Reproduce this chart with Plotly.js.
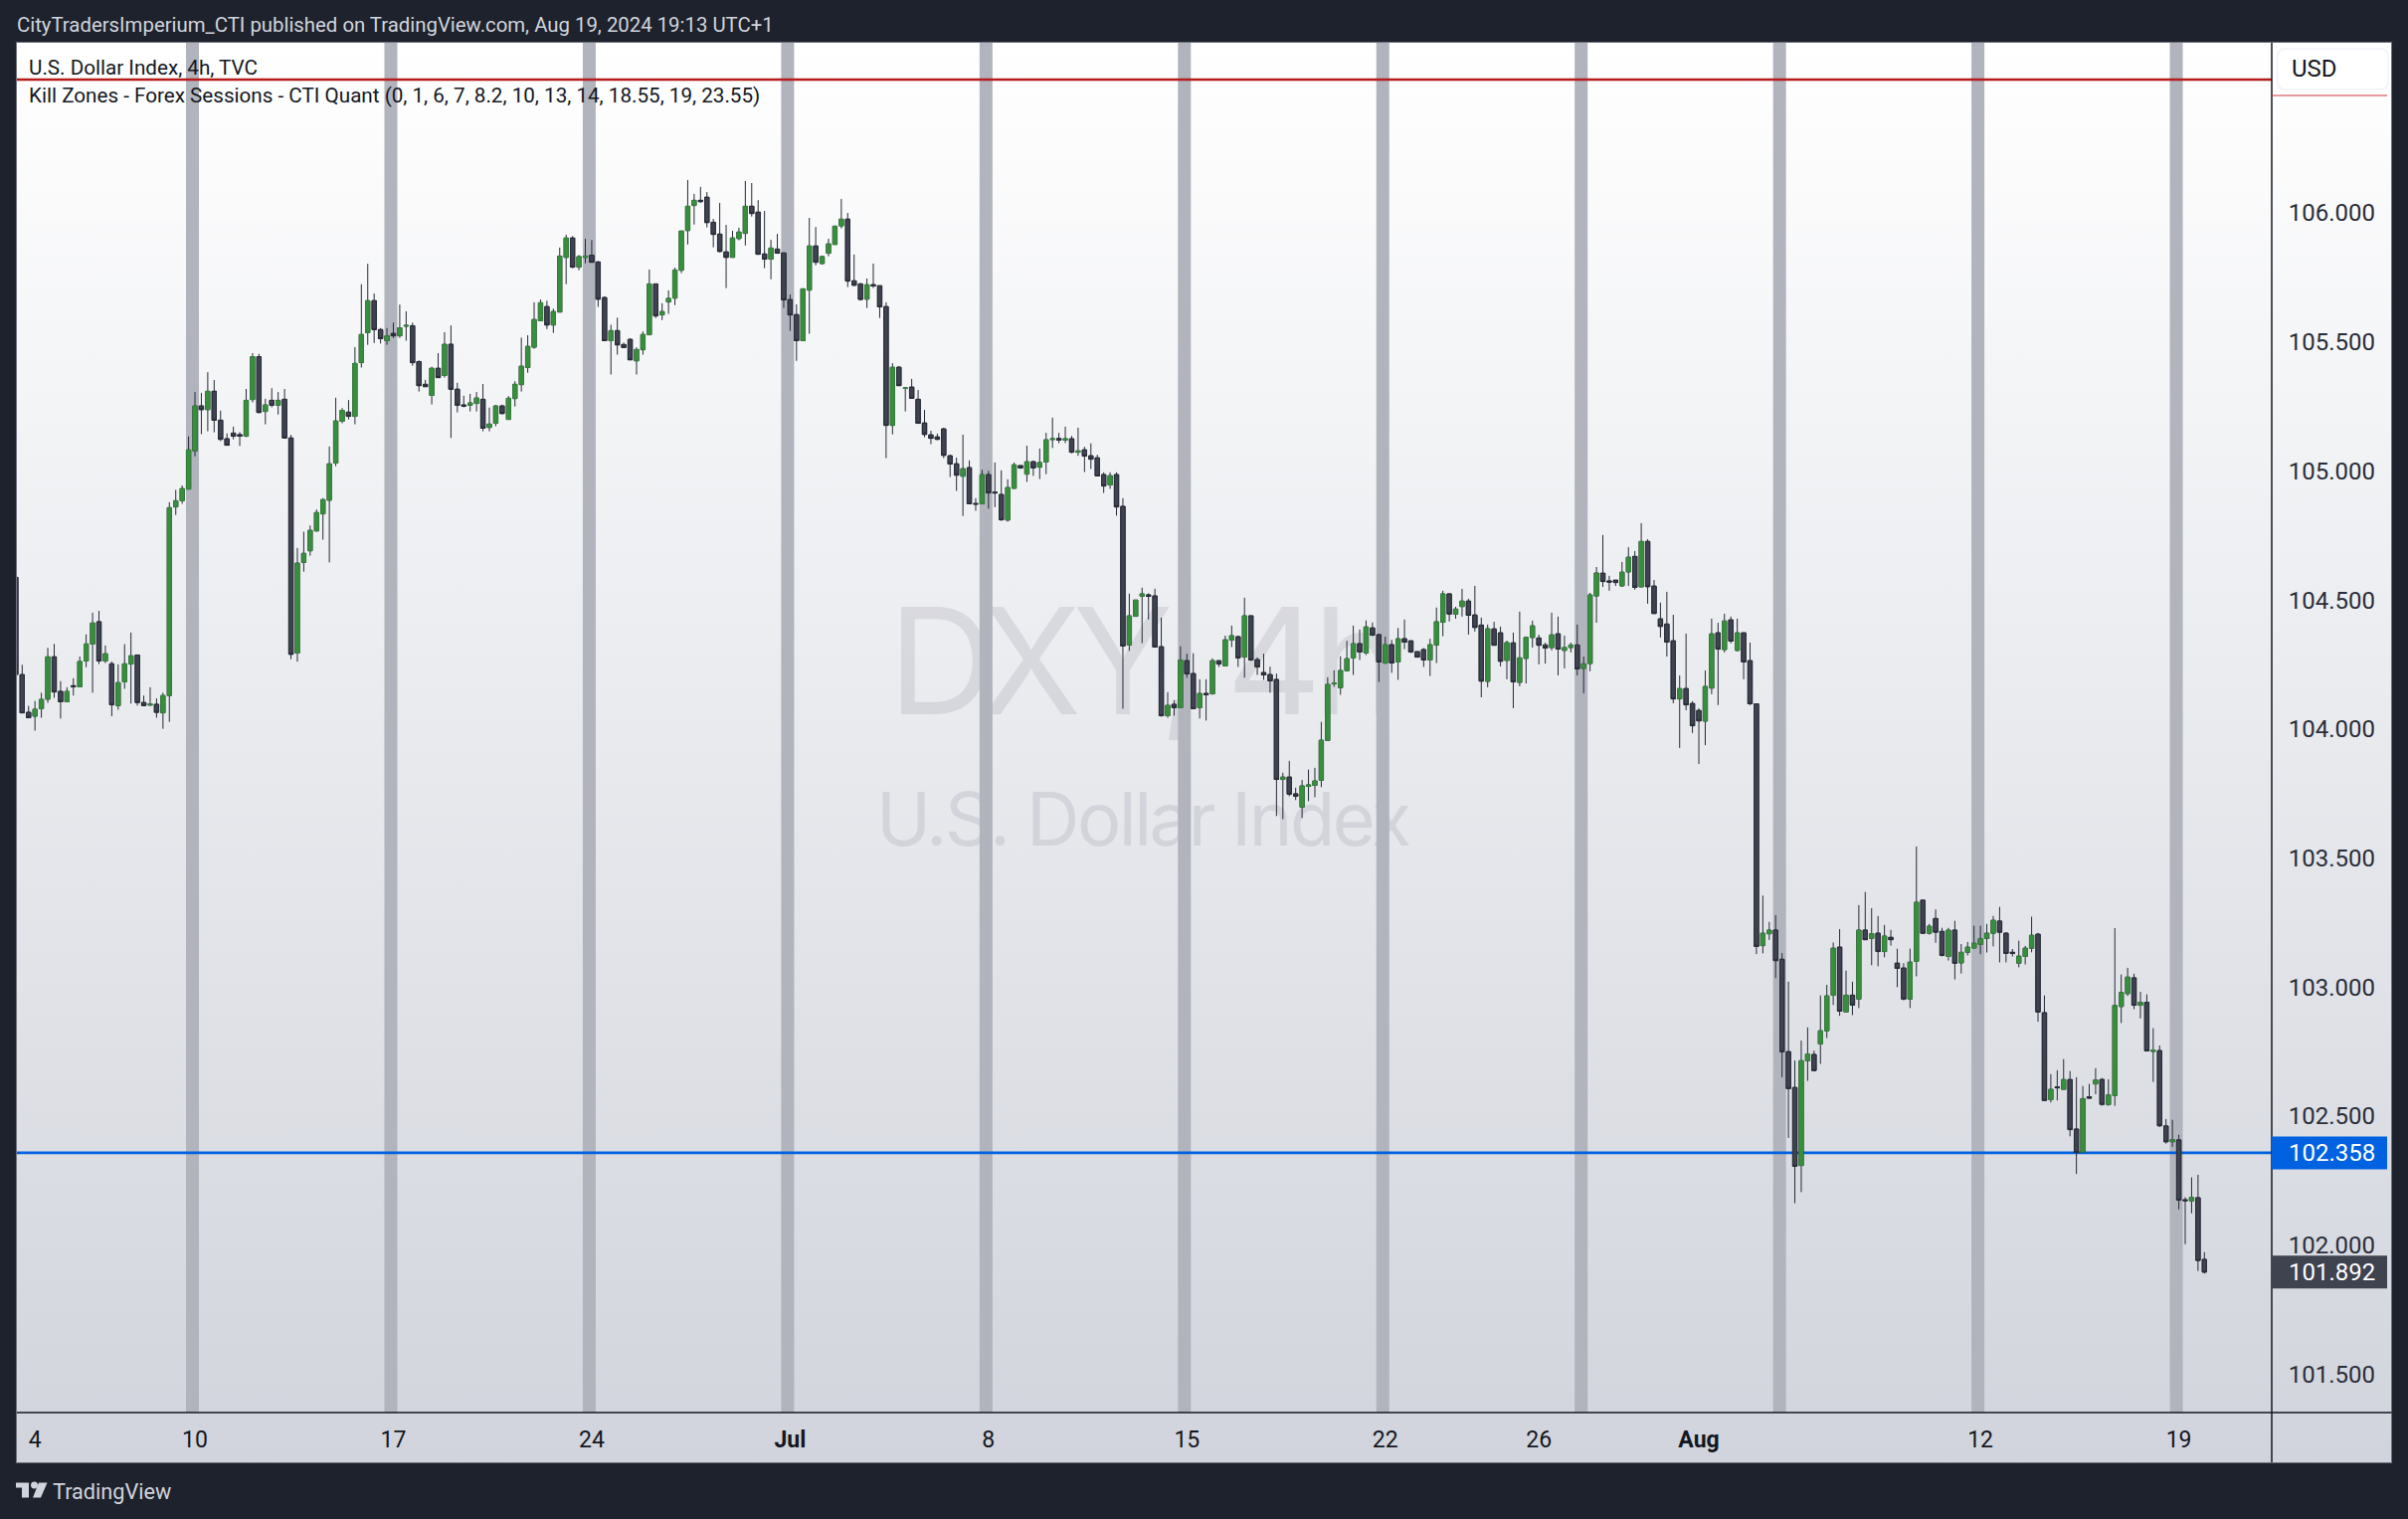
<!DOCTYPE html>
<html><head><meta charset="utf-8">
<script src="https://cdn.plot.ly/plotly-3.0.1.min.js"></script>
<style>
html,body{margin:0;padding:0;background:#1e222d;width:2421px;height:1527px;overflow:hidden}
#pane{position:absolute;left:17px;top:43px;width:2387px;height:1427px;background:linear-gradient(to bottom,#ffffff 0%,#d1d4dc 100%);outline:1.5px solid #6f727e}
.wm{position:absolute;white-space:nowrap;font-family:Inter,sans-serif;color:rgba(110,115,130,0.16);line-height:1;text-align:center}
#plot{position:absolute;left:0;top:0;width:2421px;height:1527px}
</style></head><body>
<div id="pane"></div>
<div class="wm" id="wm1" style="left:893px;top:591px;font-size:148px;letter-spacing:-8.5px">DXY, 4h</div>
<div class="wm" id="wm2" style="left:881px;top:786px;font-size:74px;letter-spacing:-2.5px">U.S. Dollar Index</div>
<div id="plot"></div>
<script>
const open_ = [
104.584,104.207,104.061,104.046,104.075,104.112,104.276,104.142,104.102,104.164,
104.160,104.260,104.326,104.412,104.260,104.249,104.087,104.179,104.248,104.283,
104.099,104.089,104.092,104.059,104.126,104.857,104.881,104.926,105.074,105.248,
105.234,105.305,105.193,105.121,105.143,105.137,105.131,105.273,105.439,105.227,
105.270,105.251,105.274,105.124,104.291,104.642,104.687,104.764,104.830,104.883,
105.027,105.189,105.224,105.208,105.416,105.532,105.656,105.544,105.501,105.529,
105.520,105.557,105.559,105.420,105.332,105.289,105.394,105.366,105.487,105.313,
105.252,105.251,105.258,105.274,105.165,105.181,105.248,105.196,105.277,105.331,
105.397,105.476,105.578,105.633,105.562,105.612,105.824,105.899,105.786,105.824,
105.832,105.806,105.668,105.501,105.540,105.486,105.506,105.423,105.466,105.524,
105.721,105.601,105.651,105.666,105.774,105.928,106.025,106.045,106.057,105.960,
105.914,105.845,105.824,105.897,105.917,106.022,105.999,105.837,105.817,105.856,
105.841,105.660,105.602,105.501,105.697,105.868,105.800,105.840,105.874,105.946,
105.972,105.733,105.721,105.662,105.718,105.714,105.633,105.173,105.398,105.316,
105.321,105.274,105.182,105.136,105.128,105.159,105.055,105.024,104.976,105.009,
104.870,104.869,104.982,104.914,104.905,104.806,104.929,105.017,104.984,105.032,
105.011,105.031,105.118,105.122,105.116,105.121,105.069,105.078,105.055,105.047,
104.982,104.942,104.982,104.859,104.322,104.433,104.511,104.516,104.512,104.315,
104.048,104.092,104.079,104.261,104.211,104.079,104.134,104.133,104.261,104.241,
104.341,104.354,104.275,104.435,104.265,104.215,104.207,104.188,103.801,103.810,
103.745,103.694,103.774,103.778,103.798,103.952,104.171,104.156,104.222,104.272,
104.327,104.291,104.388,104.362,104.252,104.323,104.256,104.346,104.338,104.296,
104.304,104.264,104.322,104.410,104.520,104.441,104.471,104.492,104.438,104.399,
104.181,104.384,104.369,104.262,104.330,104.177,104.270,104.351,104.349,104.322,
104.312,104.365,104.301,104.312,104.322,104.231,104.250,104.512,104.600,104.570,
104.573,104.551,104.605,104.665,104.547,104.723,104.550,104.423,104.403,104.338,
104.113,104.153,104.095,104.068,104.027,104.155,104.369,104.304,104.419,104.301,
104.369,104.261,104.094,103.157,103.203,103.217,103.104,102.746,102.607,102.305,
102.711,102.735,102.776,102.827,102.965,103.151,102.900,102.965,102.950,103.217,
103.185,103.205,103.134,103.189,103.089,103.070,102.950,103.096,103.333,103.205,
103.262,103.212,103.115,103.217,103.090,103.131,103.148,103.162,103.185,103.205,
103.252,103.205,103.131,103.089,103.115,103.147,103.201,102.897,102.560,102.609,
102.600,102.638,102.446,102.357,102.571,102.621,102.638,102.541,102.576,102.921,
102.971,103.032,102.926,102.937,102.747,102.750,102.458,102.397,102.404,102.172,
102.168,102.180,101.941];
const close_ = [
104.208,104.059,104.040,104.073,104.111,104.276,104.140,104.102,104.142,104.160,
104.258,104.326,104.407,104.260,104.288,104.090,104.176,104.249,104.280,104.099,
104.087,104.093,104.061,104.126,104.854,104.881,104.928,105.078,105.248,105.234,
105.305,105.193,105.119,105.096,105.131,105.131,105.270,105.439,105.223,105.252,
105.251,105.270,105.124,104.286,104.639,104.677,104.766,104.835,104.885,105.024,
105.190,105.231,105.208,105.413,105.525,105.656,105.544,105.509,105.520,105.520,
105.551,105.560,105.416,105.327,105.323,105.394,105.358,105.487,105.313,105.251,
105.248,105.260,105.279,105.162,105.178,105.248,105.219,105.278,105.332,105.402,
105.479,105.583,105.648,105.562,105.614,105.829,105.899,105.786,105.827,105.829,
105.805,105.662,105.501,105.540,105.485,105.475,105.427,105.467,105.525,105.721,
105.597,105.614,105.665,105.775,105.926,106.022,106.045,106.040,105.959,105.913,
105.847,105.824,105.899,105.922,106.022,105.994,105.836,105.817,105.860,105.840,
105.659,105.601,105.501,105.702,105.868,105.805,105.827,105.876,105.945,105.972,
105.732,105.716,105.661,105.718,105.713,105.632,105.173,105.398,105.327,105.318,
105.278,105.181,105.138,105.123,105.119,105.057,105.023,104.980,105.005,104.869,
104.868,104.982,104.911,104.911,104.807,104.932,105.020,105.008,105.032,105.008,
105.029,105.117,105.121,105.116,105.121,105.069,105.074,105.054,105.042,104.977,
104.938,104.978,104.857,104.318,104.435,104.496,104.520,104.511,104.314,104.048,
104.088,104.079,104.263,104.210,104.075,104.134,104.129,104.261,104.248,104.342,
104.358,104.272,104.435,104.264,104.237,104.206,104.183,103.801,103.810,103.744,
103.736,103.776,103.780,103.795,103.953,104.169,104.174,104.223,104.269,104.327,
104.295,104.392,104.360,104.256,104.323,104.252,104.346,104.333,104.295,104.275,
104.264,104.323,104.412,104.520,104.442,104.461,104.492,104.437,104.390,104.182,
104.385,104.321,104.259,104.331,104.179,104.272,104.351,104.396,104.321,104.310,
104.361,104.306,104.312,104.322,104.229,104.249,104.516,104.601,104.568,104.566,
104.564,104.604,104.662,104.545,104.723,104.548,104.444,104.394,104.333,104.113,
104.153,104.090,104.009,104.028,104.161,104.365,104.306,104.415,104.337,104.369,
104.256,104.094,103.154,103.205,103.217,103.099,102.746,102.603,102.302,102.711,
102.737,102.673,102.827,102.962,103.147,102.903,102.965,102.927,103.217,103.180,
103.203,103.134,103.194,103.180,103.069,102.950,103.093,103.325,103.205,103.232,
103.209,103.119,103.217,103.089,103.131,103.151,103.166,103.183,103.205,103.255,
103.209,103.127,103.127,103.116,103.147,103.197,102.900,102.557,102.600,102.606,
102.638,102.444,102.356,102.564,102.566,102.636,102.542,102.578,102.925,102.975,
103.035,102.926,102.937,102.749,102.752,102.459,102.397,102.405,102.171,102.169,
102.182,101.937,101.892];
const high = [
104.620,104.245,104.086,104.105,104.137,104.311,104.326,104.182,104.158,104.193,
104.277,104.363,104.447,104.454,104.320,104.258,104.247,104.325,104.370,104.283,
104.126,104.158,104.115,104.137,104.875,104.923,104.940,105.130,105.302,105.299,
105.379,105.349,105.230,105.142,105.168,105.147,105.314,105.453,105.450,105.276,
105.317,105.302,105.314,105.136,104.698,104.761,104.785,104.847,104.891,105.091,
105.280,105.240,105.271,105.476,105.720,105.799,105.684,105.550,105.550,105.571,
105.641,105.615,105.571,105.425,105.349,105.400,105.453,105.534,105.560,105.338,
105.288,105.295,105.302,105.333,105.242,105.252,105.253,105.286,105.344,105.513,
105.522,105.650,105.661,105.656,105.625,105.862,105.912,105.906,105.833,105.896,
105.891,105.810,105.673,105.563,105.590,105.494,105.510,105.475,105.537,105.777,
105.721,105.646,105.696,105.784,105.927,106.124,106.070,106.097,106.077,105.973,
106.035,105.950,105.927,105.939,106.120,106.112,106.046,106.004,105.892,105.915,
105.841,105.680,105.642,105.704,105.977,105.942,105.831,105.896,105.945,106.050,
105.996,105.835,105.725,105.742,105.800,105.714,105.650,105.414,105.403,105.321,
105.353,105.310,105.233,105.152,105.141,105.164,105.060,105.048,105.137,105.037,
104.891,105.001,104.997,105.029,104.999,104.964,105.029,105.017,105.094,105.036,
105.083,105.144,105.203,105.144,105.168,105.132,105.164,105.090,105.103,105.059,
104.991,104.991,104.991,104.891,104.521,104.496,104.544,104.522,104.540,104.428,
104.139,104.108,104.317,104.288,104.290,104.189,104.189,104.270,104.261,104.358,
104.397,104.358,104.505,104.435,104.274,104.288,104.238,104.211,103.827,103.873,
103.769,103.799,103.839,103.846,104.024,104.197,104.224,104.278,104.338,104.397,
104.382,104.417,104.409,104.362,104.354,104.342,104.388,104.421,104.338,104.296,
104.310,104.346,104.467,104.532,104.520,104.470,104.539,104.501,104.551,104.428,
104.401,104.412,104.393,104.339,104.370,104.451,104.355,104.416,104.362,104.331,
104.447,104.432,104.358,104.331,104.401,104.277,104.524,104.624,104.748,104.590,
104.574,104.644,104.701,104.686,104.794,104.732,104.574,104.486,104.528,104.439,
104.204,104.366,104.104,104.077,104.223,104.424,104.408,104.443,104.432,104.424,
104.369,104.331,104.094,103.351,103.249,103.275,103.128,103.017,102.712,102.789,
102.840,102.750,102.964,103.005,103.169,103.221,103.060,103.017,103.314,103.365,
103.302,103.272,103.237,103.218,103.145,103.089,103.145,103.541,103.333,103.241,
103.297,103.226,103.226,103.253,103.163,103.171,103.234,103.234,103.241,103.272,
103.307,103.209,103.144,103.176,103.156,103.269,103.206,102.964,102.659,102.674,
102.717,102.671,102.647,102.613,102.621,102.682,102.644,102.639,103.225,103.045,
103.071,103.048,102.978,102.968,102.837,102.770,102.485,102.482,102.424,102.182,
102.259,102.269,101.969];
const low = [
104.190,104.059,104.040,103.990,104.040,104.098,104.117,104.037,104.102,104.126,
104.160,104.236,104.137,104.248,104.252,104.046,104.071,104.152,104.095,104.087,
104.087,104.086,104.040,103.997,104.024,104.826,104.869,104.926,105.053,105.139,
105.150,105.146,105.112,105.096,105.119,105.093,105.127,105.262,105.220,105.177,
105.243,105.215,105.124,104.267,104.257,104.606,104.668,104.761,104.730,104.642,
105.015,105.181,105.196,105.177,105.397,105.485,105.492,105.490,105.485,105.512,
105.512,105.501,105.404,105.304,105.323,105.254,105.358,105.358,105.124,105.223,
105.243,105.227,105.227,105.150,105.150,105.170,105.215,105.196,105.246,105.304,
105.377,105.470,105.578,105.546,105.531,105.612,105.720,105.782,105.774,105.801,
105.805,105.632,105.501,105.370,105.447,105.475,105.427,105.370,105.447,105.524,
105.589,105.581,105.605,105.639,105.763,105.874,105.951,106.036,105.940,105.863,
105.844,105.705,105.824,105.890,105.870,105.982,105.836,105.782,105.739,105.840,
105.628,105.539,105.423,105.501,105.528,105.793,105.796,105.828,105.874,105.936,
105.709,105.713,105.657,105.628,105.705,105.589,105.046,105.138,105.327,105.227,
105.278,105.181,105.127,105.100,105.115,105.046,104.973,104.919,104.822,104.869,
104.842,104.869,104.850,104.856,104.803,104.800,104.927,105.004,104.954,104.977,
104.965,104.984,105.085,105.104,105.104,105.065,105.055,104.992,105.004,104.977,
104.911,104.927,104.823,104.075,104.299,104.433,104.329,104.421,104.314,104.044,
104.040,104.048,104.079,104.195,104.075,104.037,104.029,104.129,104.237,104.241,
104.314,104.237,104.195,104.260,104.206,104.187,104.137,103.659,103.647,103.736,
103.721,103.651,103.717,103.732,103.771,103.952,104.160,104.129,104.222,104.206,
104.264,104.283,104.356,104.179,104.248,104.214,104.187,104.306,104.291,104.275,
104.237,104.202,104.252,104.356,104.413,104.424,104.432,104.362,104.374,104.119,
104.158,104.321,104.239,104.189,104.077,104.162,104.173,104.312,104.247,104.250,
104.301,104.204,104.231,104.293,104.204,104.135,104.220,104.408,104.547,104.532,
104.551,104.547,104.551,104.536,104.547,104.482,104.444,104.351,104.277,104.096,
103.923,104.069,103.981,103.861,103.934,104.131,104.089,104.293,104.328,104.297,
104.189,104.089,103.124,103.127,103.179,103.031,102.647,102.412,102.159,102.202,
102.633,102.673,102.699,102.799,102.927,102.885,102.900,102.888,102.915,103.180,
103.081,103.077,103.112,103.157,102.996,102.945,102.915,103.038,103.205,103.200,
103.168,103.115,103.099,103.026,103.049,103.119,103.145,103.124,103.130,103.154,
103.092,103.092,103.115,103.073,103.084,103.131,102.862,102.557,102.549,102.557,
102.600,102.418,102.272,102.354,102.566,102.581,102.537,102.536,102.536,102.857,
102.962,102.911,102.875,102.749,102.629,102.454,102.390,102.377,102.135,102.000,
102.120,101.896,101.886];

const tickIndex = [4,29,60,91,122,153,184,215,239,264,308,339];
const tickText = ['4','10','17','24','<b>Jul</b>','8','15','22','26','<b>Aug</b>','12','19'];
const priceTicks = [101.5,102,102.5,103,103.5,104,104.5,105,105.5,106];
const killZoneStart = [27.6,58.6,89.6,120.6,151.6,182.6,213.6,244.6,275.6,306.6,337.6];
const killZoneBars = 2.02;
const resistanceLevel = 106.513;
const blueLevel = 102.358;
const lastPrice = 101.892;

const L=17,R=2284,T=43,B=1420.4;
const X=p=>(p-L)/(R-L), Y=p=>(B-p)/(B-T);
const FONT='Roboto, sans-serif';
const idx = open_.map((_,i)=>i+1);
const bodyHigh = open_.map((o,i)=>Math.max(o,close_[i]));
const bodyLow = open_.map((o,i)=>Math.min(o,close_[i]));
const WICK='#262a36', GREEN='#388e3c';

const wicks = {type:'candlestick',x:idx,open:open_,high:high,low:low,close:close_,
  increasing:{line:{color:WICK,width:1},fillcolor:WICK},
  decreasing:{line:{color:WICK,width:1},fillcolor:WICK},
  whiskerwidth:0,hoverinfo:'skip',showlegend:false};
const bodies = {type:'candlestick',x:idx,open:open_,high:bodyHigh,low:bodyLow,close:close_,
  increasing:{line:{color:GREEN,width:0.7},fillcolor:GREEN},
  decreasing:{line:{color:'#2a2e39',width:1},fillcolor:'#3f424f'},
  whiskerwidth:0,hoverinfo:'skip',showlegend:false};

const shapes = [];
killZoneStart.forEach(s=>shapes.push({type:'rect',layer:'below',xref:'x',yref:'paper',x0:s,x1:s+killZoneBars,y0:0,y1:1,
  fillcolor:'#b1b3bd',line:{width:0}}));
// the line and its label sit about one pixel below the nominal price in the reference
const pxOffset = 1;
shapes.push({type:'line',layer:'below',xref:'paper',yref:'y',x0:0,x1:1,ysizemode:'pixel',yanchor:blueLevel,y0:-pxOffset,y1:-pxOffset,line:{color:'#0062e0',width:2.6}});
shapes.push({type:'line',layer:'above',xref:'paper',yref:'y',x0:0,x1:1,y0:resistanceLevel,y1:resistanceLevel,line:{color:'#b71c1c',width:2.6}});
// axes frame
shapes.push({type:'line',xref:'paper',yref:'paper',x0:1,x1:1,y0:Y(1470.5),y1:1,line:{color:'#131722',width:1.5}});
shapes.push({type:'line',xref:'paper',yref:'paper',x0:0,x1:X(2404.5),y0:0,y1:0,line:{color:'#131722',width:1.5}});
// price scale: thin red mark, USD box, price labels
shapes.push({type:'line',xref:'paper',yref:'paper',x0:1,x1:X(2400),y0:Y(96),y1:Y(96),line:{color:'#cf3a3a',width:1}});
const rr=(x0,y0,x1,y1,r)=>`M${X(x0+r)},${Y(y0)} L${X(x1-r)},${Y(y0)} Q${X(x1)},${Y(y0)} ${X(x1)},${Y(y0+r)} L${X(x1)},${Y(y1-r)} Q${X(x1)},${Y(y1)} ${X(x1-r)},${Y(y1)} L${X(x0+r)},${Y(y1)} Q${X(x0)},${Y(y1)} ${X(x0)},${Y(y1-r)} L${X(x0)},${Y(y0+r)} Q${X(x0)},${Y(y0)} ${X(x0+r)},${Y(y0)} Z`;
shapes.push({type:'path',xref:'paper',yref:'paper',path:rr(2290,49,2401,90,8),fillcolor:'#ffffff',line:{color:'#f0f3fa',width:1.5}});
const priceBox=(level,color,off)=>({type:'rect',xref:'paper',yref:'y',x0:1,x1:X(2400),ysizemode:'pixel',yanchor:level,y0:-16.5-off,y1:16.5-off,fillcolor:color,line:{width:0}});
shapes.push(priceBox(blueLevel,'#0062e0',pxOffset));
shapes.push(priceBox(lastPrice,'#3f424f',0));
// TradingView logo
const poly=pts=>'M'+pts.map(p=>`${X(p[0])},${Y(p[1])}`).join(' L')+' Z';
shapes.push({type:'path',xref:'paper',yref:'paper',path:poly([[16,1491],[29,1491],[29,1506],[22,1506],[22,1496],[16,1496]]),fillcolor:'#d1d4dc',line:{width:0}});
shapes.push({type:'path',xref:'paper',yref:'paper',path:poly([[39,1491],[47.5,1491],[41,1506],[33,1506]]),fillcolor:'#d1d4dc',line:{width:0}});
shapes.push({type:'circle',xref:'paper',yref:'paper',x0:X(31),x1:X(38),y0:Y(1497),y1:Y(1490),fillcolor:'#d1d4dc',line:{width:0}});

const textAt=(px,py,text,size,color,anchor,extra)=>Object.assign({xref:'paper',yref:'paper',x:X(px),y:Y(py),text:text,showarrow:false,
  xanchor:anchor||'left',yanchor:'middle',font:{family:FONT,size:size,color:color},borderpad:0},extra||{});
const annotations=[
  textAt(16,25,'CityTradersImperium_CTI published on TradingView.com, Aug 19, 2024 19:13 UTC+1',20.35,'#d1d4dc'),
  textAt(28,68,'U.S. Dollar Index, 4h, TVC',20.65,'#131722'),
  textAt(28,96,'Kill Zones - Forex Sessions - CTI Quant (0, 1, 6, 7, 8.2, 10, 13, 14, 18.55, 19, 23.55)',20.65,'#131722'),
  textAt(2303.5,69,'USD',24,'#131722'),
  textAt(51.5,1500,'TradingView',21.7,'#d1d4dc'),
  {xref:'paper',yref:'y',x:X(2344.5),y:blueLevel,yshift:-pxOffset,text:blueLevel.toFixed(3),showarrow:false,xanchor:'center',yanchor:'middle',font:{family:FONT,size:24,color:'#ffffff'}},
  {xref:'paper',yref:'y',x:X(2344.5),y:lastPrice,text:lastPrice.toFixed(3),showarrow:false,xanchor:'center',yanchor:'middle',font:{family:FONT,size:24,color:'#ffffff'}}
];

const layout={width:2421,height:1527,margin:{l:L,r:2421-R,t:T,b:1527-B,pad:0},autosize:false,
  paper_bgcolor:'rgba(0,0,0,0)',plot_bgcolor:'rgba(0,0,0,0)',showlegend:false,dragmode:false,boxgap:0.33,boxgroupgap:0,
  xaxis:{type:'linear',range:[1.176,353.52],tickmode:'array',tickvals:tickIndex,ticktext:tickText,rangeslider:{visible:false},
    showgrid:false,zeroline:false,showline:false,ticks:'outside',ticklen:6,tickcolor:'rgba(0,0,0,0)',
    tickfont:{family:FONT,size:23,color:'#131722'},tickangle:0,fixedrange:true},
  yaxis:{side:'right',range:[101.3476,106.6555],tickmode:'array',tickvals:priceTicks,ticktext:priceTicks.map(v=>v.toFixed(3)),
    showgrid:false,zeroline:false,showline:false,ticks:'outside',ticklen:11,tickcolor:'rgba(0,0,0,0)',
    tickfont:{family:FONT,size:24,color:'#2a2e39'},ticklabelshift:1,fixedrange:true},
  shapes:shapes,annotations:annotations};
Plotly.newPlot('plot',[wicks,bodies],layout,{displayModeBar:false,staticPlot:true});
</script>
</body></html>
